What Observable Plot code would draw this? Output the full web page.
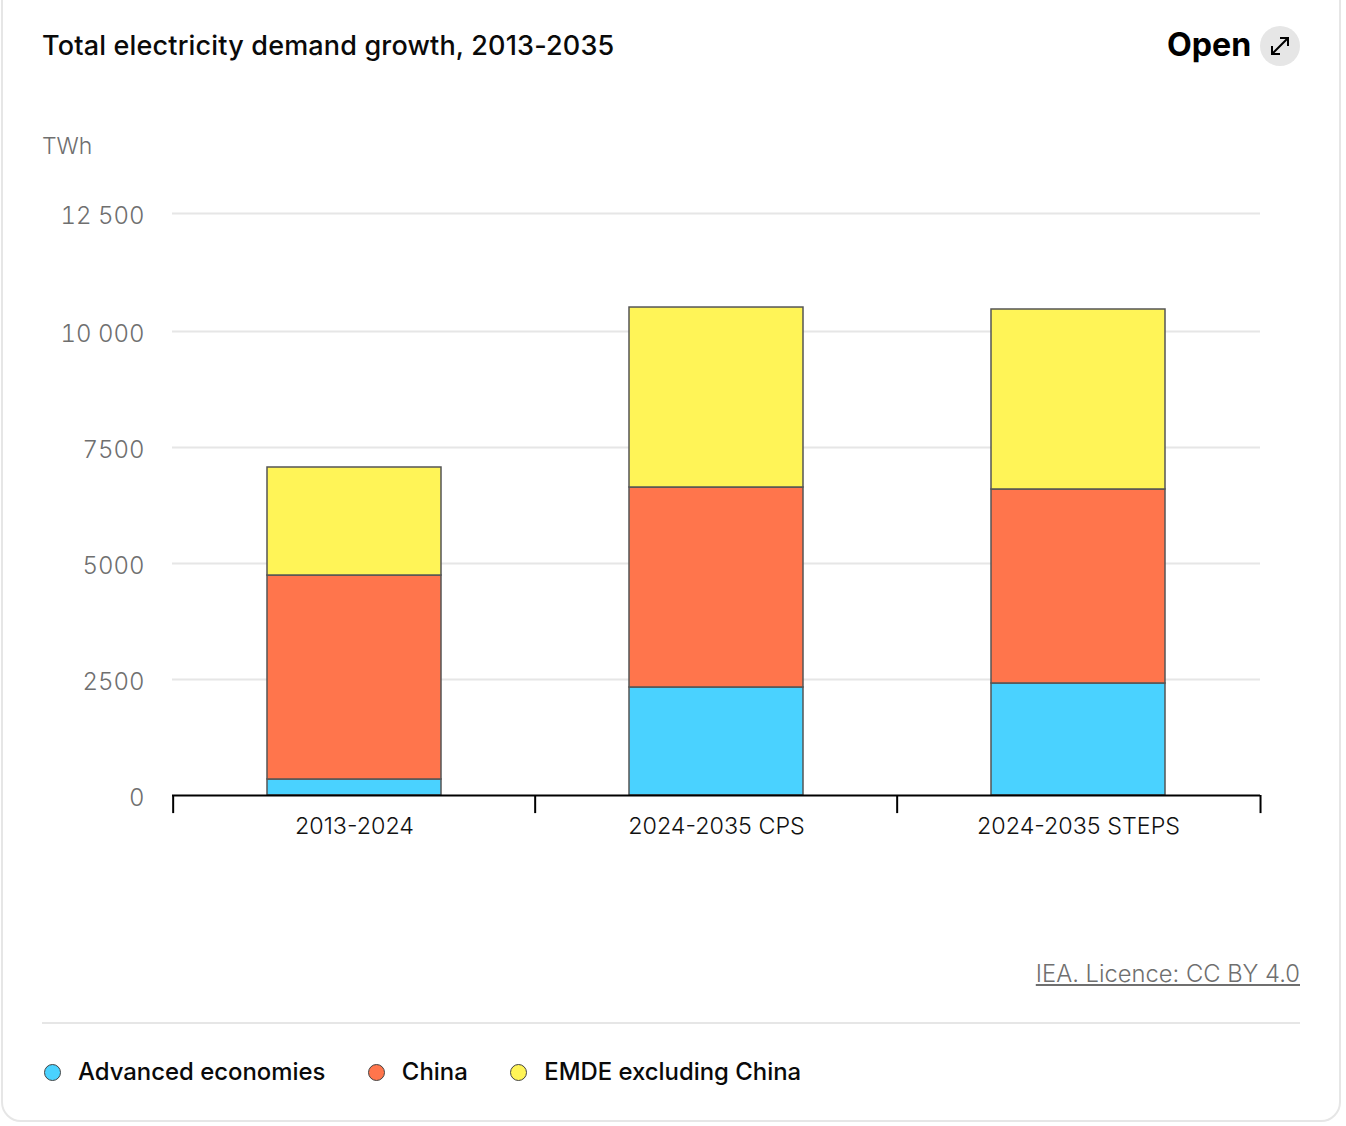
<!DOCTYPE html>
<html>
<head>
<meta charset="utf-8">
<script src="https://cdn.jsdelivr.net/npm/d3@7"></script>
<script src="https://cdn.jsdelivr.net/npm/@observablehq/plot@0.6"></script>
<style>
html,body{margin:0;padding:0;background:#fff;}
body{width:1346px;height:1126px;position:relative;overflow:hidden;font-family:Inter,"Noto Sans",sans-serif;}
#card{position:absolute;left:1px;top:-20px;width:1340px;height:1142px;border:2px solid #e6e6e6;border-radius:20px;box-sizing:border-box;}
#title{position:absolute;left:42px;top:29px;font-size:27px;font-weight:500;color:#0a0a0a;line-height:34px;white-space:nowrap;letter-spacing:0.17px;}
#open{position:absolute;left:1167px;top:26px;font-size:32.2px;font-weight:700;color:#000;line-height:38px;}
#icon{position:absolute;left:1260px;top:26px;width:40px;height:40px;border-radius:50%;background:#e6e6e6;}
#unit{position:absolute;left:42px;top:131px;font-size:23px;font-weight:300;color:#6f6f6f;line-height:30px;}
#plot{position:absolute;left:0;top:180px;}
#src{position:absolute;right:46px;top:959px;font-size:23.75px;font-weight:300;color:#6f6f6f;text-decoration:underline;line-height:30px;}
#sep{position:absolute;left:42px;top:1022px;width:1258px;height:2px;background:#e6e6e6;}
#legend{position:absolute;left:44px;top:1056px;display:flex;font-size:23.9px;font-weight:500;color:#0a0a0a;line-height:32px;}
.li{display:flex;align-items:center;margin-right:42.5px;}
.sw{flex:none;width:15px;height:15px;border-radius:50%;border:1.5px solid #444;margin-right:17px;box-sizing:content-box;}
</style>
</head>
<body>
<div id="card"></div>
<div id="title"></div>
<div id="open">Open</div>
<div id="icon"><svg width="40" height="40" viewBox="0 0 40 40" fill="none" stroke="#000" stroke-width="2"><path d="M12 28L28 12M20 12h8v8M12 20v8h8"/></svg></div>
<div id="unit"></div>
<div id="plot"></div>
<a id="src">IEA. Licence: CC BY 4.0</a>
<div id="sep"></div>
<div id="legend"></div>
<script>
const titleText = "Total electricity demand growth, 2013-2035";
const unitText = "TWh";
const categories = ["2013-2024", "2024-2035 CPS", "2024-2035 STEPS"];
const seriesNames = ["Advanced economies", "China", "EMDE excluding China"];
const seriesColors = ["#4AD2FF", "#FF754C", "#FFF457"];
const advanced = [345, 2328, 2414];
const china = [4396, 4310, 4181];
const emde = [2328, 3870, 3871];
const yTicks = [0, 2500, 5000, 7500, 10000, 12500];
const yTickLabels = ["0", "2500", "5000", "7500", "10 000", "12 500"];

const rows = [];
[advanced, china, emde].forEach((vals, s) => vals.forEach((v, i) =>
  rows.push({category: categories[i], series: seriesNames[s], value: v, order: s})));

document.getElementById("title").textContent = titleText;
document.getElementById("unit").textContent = unitText;

const bandStep = 1088 / categories.length;

const chart = Plot.plot({
  width: 1346,
  height: 660,
  marginLeft: 172,
  marginRight: 86,
  marginTop: 33,
  marginBottom: 45,
  style: {fontFamily: "Inter, sans-serif", background: "transparent", overflow: "visible"},
  x: {domain: categories, paddingInner: 0.52, paddingOuter: 0.26, align: 0.5, label: null},
  y: {type: "linear", domain: [0, 10000, 12500], range: [615, 151, 33], label: null},
  color: {domain: seriesNames, range: seriesColors},
  marks: [
    Plot.ruleY(yTicks.filter(d => d > 0), {y: d => d, stroke: "#e6e6e6", strokeWidth: 2}),
    Plot.axisY({
      ticks: yTicks, tickSize: 0, tickPadding: 28, label: null, dy: 3,
      tickFormat: d => yTickLabels[yTicks.indexOf(d)],
      fontSize: 24, fill: "#6f6f6f", fontWeight: 300
    }),
    Plot.axisX({tickSize: 0, tickPadding: 22, label: null, fontSize: 23.3, fill: "#111", fontWeight: 300}),
    Plot.rectY(rows, Plot.stackY({
      x: "category", y: "value", fill: "series", z: "series", order: "order",
      stroke: "#555", strokeWidth: 1.5
    })),
    Plot.ruleY([0], {stroke: "#000", strokeWidth: 2}),
    Plot.ruleX(categories, {x: d => d, y1: 0, y2: -390, dx: -bandStep / 2, stroke: "#000", strokeWidth: 2}),
    Plot.ruleX(categories.slice(-1), {x: d => d, y1: 0, y2: -390, dx: bandStep / 2 + 0.7, stroke: "#000", strokeWidth: 2})
  ]
});
document.getElementById("plot").appendChild(chart);

const legend = document.getElementById("legend");
seriesNames.forEach((n, i) => {
  const li = document.createElement("div");
  li.className = "li";
  const sw = document.createElement("span");
  sw.className = "sw";
  sw.style.background = seriesColors[i];
  li.appendChild(sw);
  li.appendChild(document.createTextNode(n));
  legend.appendChild(li);
});
</script>
</body>
</html>
